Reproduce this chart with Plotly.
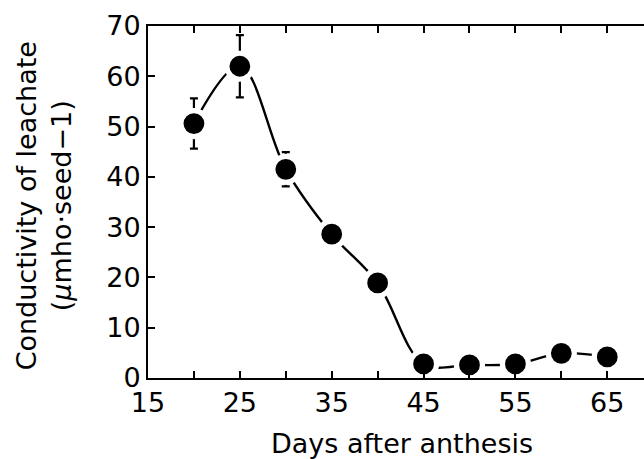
import plotly.graph_objects as go

days = [20, 25, 30, 35, 40, 45, 50, 55, 60, 65]
conductivity = [50.6, 62.0, 41.5, 28.6, 18.9, 2.8, 2.6, 2.8, 4.9, 4.2]
err_days = [20, 25, 30]
err_vals = [50.6, 62.0, 41.5]
err_plus = [5.0, 6.2, 3.4]

x_tickvals = [15, 20, 25, 30, 35, 40, 45, 50, 55, 60, 65]
x_ticktext = ["15", "", "25", "", "35", "", "45", "", "55", "", "65"]
y_tickvals = [0, 10, 20, 30, 40, 50, 60, 70]

FONT = "DejaVu Sans"

fig = go.Figure()
fig.add_trace(go.Scatter(
    x=days, y=conductivity, mode="lines",
    line=dict(color="black", width=2.4, shape="spline", smoothing=1.0),
    hoverinfo="skip", showlegend=False))
fig.add_trace(go.Scatter(
    x=err_days, y=err_vals, mode="markers",
    marker=dict(size=1, color="rgba(0,0,0,0)"),
    error_y=dict(type="data", array=err_plus, symmetric=True,
                 color="black", thickness=2.2, width=4),
    showlegend=False))
fig.add_trace(go.Scatter(
    x=days, y=conductivity, mode="markers",
    marker=dict(size=26, color="black", line=dict(color="white", width=5.2)),
    showlegend=False))

fig.update_layout(
    width=644, height=459,
    margin=dict(l=148, r=0, t=26, b=81, autoexpand=False),
    paper_bgcolor="white", plot_bgcolor="white",
    font=dict(family=FONT, size=27, color="black"),
    xaxis=dict(range=[15, 69.0], tickvals=x_tickvals, ticktext=x_ticktext,
               ticks="inside", ticklen=7, tickwidth=2, tickcolor="black",
               showline=True, linewidth=2, linecolor="black", mirror="allticks",
               showgrid=False, zeroline=False, automargin=False,
               tickfont=dict(family=FONT, size=27)),
    yaxis=dict(range=[0, 70], tickvals=y_tickvals,
               ticks="inside", ticklen=7, tickwidth=2, tickcolor="black",
               showline=True, linewidth=2, linecolor="black", mirror=False,
               showgrid=False, zeroline=False, automargin=False,
               tickfont=dict(family=FONT, size=27)),
    annotations=[
        dict(text="Days after anthesis", xref="paper", yref="paper",
             x=0.513, y=-0.185, xanchor="center", yanchor="middle",
             showarrow=False, font=dict(family=FONT, size=27)),
        dict(text="Conductivity of leachate<br>(<i>μ</i>mho·seed−1)",
             xref="paper", yref="paper", x=-0.21, y=0.49,
             xanchor="center", yanchor="middle", textangle=-90,
             showarrow=False, font=dict(family=FONT, size=27)),
    ],
)

fig.write_html("out.html", config={"displayModeBar": False},
               post_script="document.body.style.margin='0';document.body.style.overflow='hidden';")
